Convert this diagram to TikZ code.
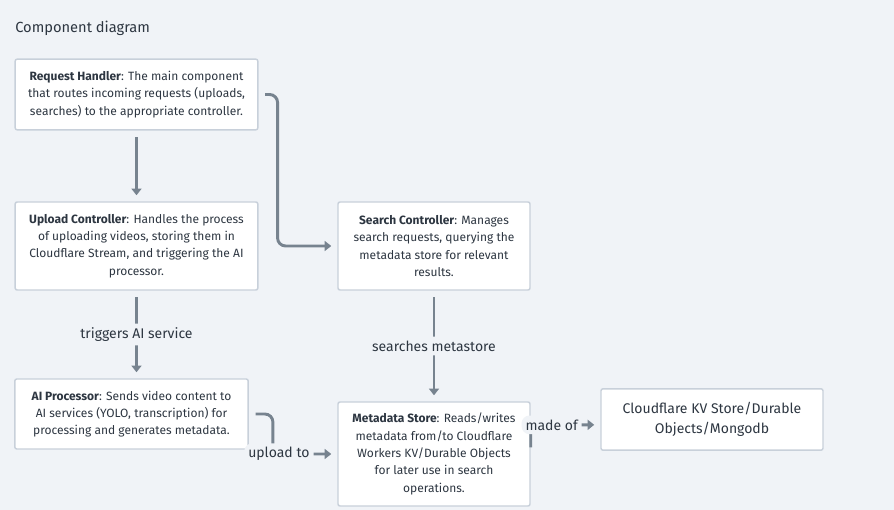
\documentclass[tikz,border=0pt]{standalone}
\usepackage{fontspec}
\setmainfont{Fira Sans}
\usetikzlibrary{arrows.meta}
\definecolor{bgcol}{HTML}{F0F3F7}
\definecolor{boxline}{HTML}{C8D0DA}
\definecolor{wire}{HTML}{77838F}
\definecolor{txt}{HTML}{2D3641}
\tikzset{
  comp/.style={draw=boxline, fill=white, line width=1.1pt, rounded corners=1.5pt,
    align=center, text=txt, inner sep=0pt, font=\fontsize{9}{13}\selectfont},
  conn/.style={draw=wire, line width=2.2pt, -{Triangle[length=5pt,width=7.5pt]},
    shorten <=5pt, shorten >=4.5pt, rounded corners=6pt},
  lbl/.style={fill=bgcol, text=txt, inner sep=3pt, font=\fontsize{10.5}{12}\selectfont}
}

\begin{document}
\begin{tikzpicture}[x=0.75pt, y=-0.75pt]
    % background and frame
    \fill[bgcol] (0,0) rectangle (894,510);
    \useasboundingbox (0,0) rectangle (894,510);
    \node[anchor=west, inner sep=0pt, text=txt, font=\fontsize{11}{13}\selectfont] (title) at (15,28) {Component diagram};

    % components
    \node[comp, minimum width=182pt, minimum height=53pt] (handler) at (136.5,94.5)
        {\textbf{Request Handler}: The main component\\that routes incoming requests (uploads,\\searches) to the appropriate controller.};
    \node[comp, minimum width=182pt, minimum height=66pt] (upload) at (136.5,246)
        {\textbf{Upload Controller}: Handles the process\\of uploading videos, storing them in\\Cloudflare Stream, and triggering the AI\\processor.};
    \node[comp, minimum width=144pt, minimum height=66pt] (search) at (434,246)
        {\textbf{Search Controller}: Manages\\search requests, querying the\\metadata store for relevant\\results.};
    \node[comp, minimum width=175pt, minimum height=52.5pt] (ai) at (131.5,414)
        {\textbf{AI Processor}: Sends video content to\\AI services (YOLO, transcription) for\\processing and generates metadata.};
    \node[comp, minimum width=144pt, minimum height=78pt] (store) at (434,454)
        {\textbf{Metadata Store}: Reads/writes\\metadata from/to Cloudflare\\Workers KV/Durable Objects\\for later use in search\\operations.};
    \node[comp, minimum width=166.5pt, minimum height=46pt, font=\fontsize{10.5}{15}\selectfont] (kv) at (712,419.5)
        {Cloudflare KV Store/Durable\\Objects/Mongodb};

    % connectors
    \draw[conn] (handler) -- (upload);
    \draw[conn] (handler.east) -- ++(19,0) |- (search.west);
    \draw[conn] (upload) -- node[lbl] {triggers AI service} (upload |- ai.north);
    \draw[conn] (search) -- node[lbl] {searches metastore} (store);
    \draw[conn] (ai.east) -- ++(24,0) |- node[lbl, pos=0.5, xshift=4.5pt] {upload to} (store.west);
    \draw[conn, shorten <=0pt] ([yshift=5pt]store.east) |- node[lbl, pos=0.5, anchor=west, xshift=-8pt] {made of} ([yshift=-4pt]kv.west);
\end{tikzpicture}
\end{document}
